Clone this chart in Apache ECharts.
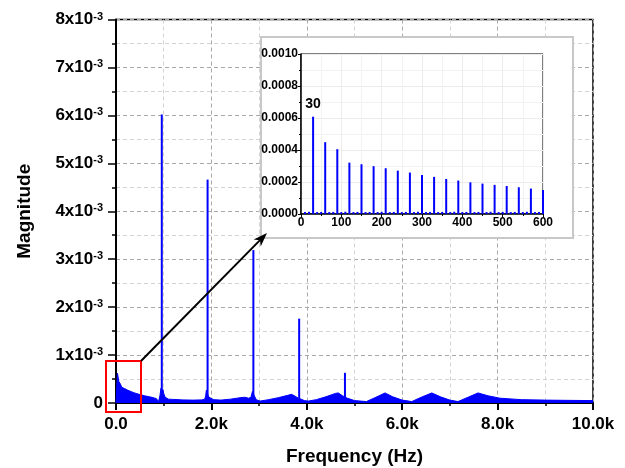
<!DOCTYPE html>
<html><head><meta charset="utf-8">
<script src="https://cdn.jsdelivr.net/npm/echarts@6/dist/echarts.min.js"></script>
<style>html,body{margin:0;padding:0;background:#fff}#c{width:625px;height:468px}</style>
</head><body><div id="c"></div>
<script>
// ---- Data ----
const xTickLabels = ['0.0', '2.0k', '4.0k', '6.0k', '8.0k', '10.0k'];
const yTickExponent = '-3';
// broadband spectrum envelope [Hz, magnitude]
const spectrumEnvelope = [
  [0,0],[10,0.02e-3],[20,0.02e-3],[30,0.62e-3],[60,0.45e-3],[90,0.40e-3],[120,0.33e-3],[150,0.31e-3],
  [180,0.30e-3],[210,0.285e-3],[240,0.27e-3],[270,0.26e-3],[300,0.245e-3],[330,0.232e-3],[360,0.22e-3],
  [390,0.21e-3],[420,0.20e-3],[450,0.19e-3],[480,0.182e-3],[510,0.175e-3],[540,0.167e-3],[570,0.16e-3],
  [600,0.15e-3],[650,0.14e-3],[700,0.13e-3],[750,0.12e-3],[800,0.105e-3],[850,0.09e-3],[875,0.06e-3],
  [890,0.02e-3],[905,0.06e-3],[920,0.15e-3],[935,0.25e-3],[945,0.31e-3],[955,0.22e-3],[970,0.24e-3],
  [985,0.28e-3],[1000,0.2e-3],[1030,0.12e-3],[1060,0.09e-3],[1100,0.08e-3],[1200,0.075e-3],[1400,0.065e-3],
  [1600,0.06e-3],[1800,0.065e-3],[1860,0.08e-3],[1880,0.15e-3],[1895,0.27e-3],[1910,0.2e-3],[1935,0.22e-3],
  [1950,0.12e-3],[1980,0.08e-3],[2050,0.07e-3],[2200,0.06e-3],[2400,0.08e-3],[2600,0.11e-3],[2700,0.12e-3],
  [2780,0.10e-3],[2830,0.12e-3],[2860,0.24e-3],[2900,0.15e-3],[2940,0.07e-3],[3020,0.04e-3],[3200,0.07e-3],
  [3400,0.11e-3],[3600,0.16e-3],[3680,0.18e-3],[3760,0.14e-3],[3820,0.10e-3],[3880,0.08e-3],[3950,0.05e-3],
  [4030,0.04e-3],[4200,0.07e-3],[4400,0.13e-3],[4600,0.20e-3],[4660,0.21e-3],[4750,0.15e-3],[4850,0.10e-3],
  [5000,0.05e-3],[5250,0.03e-3],[5450,0.12e-3],[5640,0.21e-3],[5800,0.13e-3],[6000,0.06e-3],[6200,0.03e-3],
  [6400,0.12e-3],[6620,0.21e-3],[6800,0.13e-3],[7000,0.06e-3],[7170,0.03e-3],[7380,0.12e-3],[7590,0.21e-3],
  [7800,0.15e-3],[8050,0.10e-3],[8500,0.07e-3],[9000,0.06e-3],[9500,0.055e-3],[10000,0.05e-3]
];
// strong tonal peaks [Hz, magnitude]
const mainPeaks = [[960,6.02e-3],[1920,4.66e-3],[2880,3.19e-3],[3840,1.76e-3],[4800,0.63e-3]];
// inset: harmonics of 30 Hz
const insetHarmonicFreqs = [30,60,90,120,150,180,210,240,270,300,330,360,390,420,450,480,510,540,570,600];
const insetHarmonicMags = [0.000608,0.000449,0.000405,0.000321,0.000311,0.000299,0.000286,0.000271,0.000259,0.000244,
  0.000232,0.000219,0.000209,0.000198,0.000190,0.000182,0.000175,0.000167,0.000159,0.000150];
// inset: small side lines
const insetSmallFreqs = [10,20,40,50,70,80,100,110,130,140,160,170,190,200,220,230,250,260,280,290,310,320,340,350,
  370,380,400,410,430,440,460,470,490,500,520,530,550,560,580,590];
const insetSmallMags = [1.2e-5,1.4e-5,1.2e-5,1.3e-5,1.2e-5,1.3e-5,1.2e-5,1.4e-5,1.2e-5,1.3e-5,1.2e-5,1.3e-5,1.2e-5,1.4e-5,
  1.2e-5,1.3e-5,1.2e-5,1.3e-5,1.2e-5,1.4e-5,1.2e-5,1.3e-5,1.2e-5,1.3e-5,1.2e-5,1.4e-5,1.2e-5,1.3e-5,1.2e-5,1.3e-5,
  1.2e-5,1.4e-5,1.2e-5,1.3e-5,1.2e-5,1.3e-5,1.2e-5,1.4e-5,1.2e-5,1.3e-5];
const annotatedFreq = 30;

// ---- Chart ----
const FONT = "'Liberation Sans', Arial, sans-serif";
const BLUE = '#0000ff';
const chart = echarts.init(document.getElementById('c'), null, {renderer: 'canvas'});

const insetData = [];
insetSmallFreqs.forEach((f, i) => insetData.push([f, insetSmallMags[i]]));
insetHarmonicFreqs.forEach((f, i) => {
  const item = {value: [f, insetHarmonicMags[i]]};
  if (f === annotatedFreq) {
    item.label = {show: true, position: 'top', distance: 6, formatter: String(f),
      fontFamily: FONT, fontWeight: 'bold', fontSize: 14, color: '#000'};
  }
  insetData.push(item);
});
insetData.sort((a, b) => (a.value || a)[0] - (b.value || b)[0]);

const dash = [4, 3];
const option = {
  backgroundColor: '#fff',
  animation: false,
  grid: [
    {left: 116, right: 32, top: 19.5, bottom: 65, show: true, borderColor: '#000', borderWidth: 1.5, z: 0,
      containLabel: false, outerBoundsMode: 'none'},
    {left: 301, right: 82, top: 54, bottom: 254, show: true, borderColor: '#000', borderWidth: 1, z: 5,
      containLabel: false, outerBoundsMode: 'none'}
  ],
  xAxis: [
    {
      type: 'value', gridIndex: 0, min: 0, max: 10000, interval: 2000,
      axisLine: {show: true, onZero: false, lineStyle: {color: '#000', width: 2}},
      axisTick: {show: true, length: 7, lineStyle: {color: '#000', width: 2}},
      minorTick: {show: true, splitNumber: 2, length: 3, lineStyle: {color: '#000', width: 1.5}},
      splitLine: {show: true, lineStyle: {color: '#a8a8a8', type: dash, width: 1}},
      minorSplitLine: {show: true, lineStyle: {color: '#d4d4d4', type: dash, width: 1}},
      axisLabel: {margin: 13, color: '#000', fontFamily: FONT, fontWeight: 'bold', fontSize: 17,
        formatter: v => xTickLabels[Math.round(v / 2000)]},
      name: 'Frequency (Hz)', nameLocation: 'middle', nameGap: 44,
      nameTextStyle: {color: '#000', fontFamily: FONT, fontWeight: 'bold', fontSize: 19}
    },
    {
      type: 'value', gridIndex: 1, min: 0, max: 600, interval: 100, z: 5,
      axisLine: {show: true, onZero: false, lineStyle: {color: '#000', width: 1.5}},
      axisTick: {show: true, length: 3, lineStyle: {color: '#000', width: 1}},
      minorTick: {show: true, splitNumber: 2, length: 2, lineStyle: {color: '#000', width: 1}},
      splitLine: {show: true, lineStyle: {color: '#ececec', width: 1}},
      minorSplitLine: {show: true, lineStyle: {color: '#f2f2f2', width: 1}},
      axisLabel: {margin: 3, color: '#000', fontFamily: FONT, fontWeight: 'bold', fontSize: 12}
    }
  ],
  yAxis: [
    {
      type: 'value', gridIndex: 0, min: 0, max: 0.008, interval: 0.001,
      axisLine: {show: true, onZero: false, lineStyle: {color: '#000', width: 2}},
      axisTick: {show: true, length: 8, lineStyle: {color: '#000', width: 1.5}},
      minorTick: {show: true, splitNumber: 2, length: 4, lineStyle: {color: '#000', width: 1.5}},
      splitLine: {show: true, lineStyle: {color: '#a8a8a8', type: dash, width: 1}},
      minorSplitLine: {show: true, lineStyle: {color: '#d4d4d4', type: dash, width: 1}},
      axisLabel: {
        margin: 13, color: '#000',
        formatter: v => {
          const k = Math.round(v * 1000);
          return k === 0 ? '{b|0}' : '{b|' + k + 'x10}{s|' + yTickExponent + '}';
        },
        rich: {
          b: {fontFamily: FONT, fontWeight: 'bold', fontSize: 17, color: '#000'},
          s: {fontFamily: FONT, fontWeight: 'bold', fontSize: 11, color: '#000', padding: [0, 0, 6, 0]}
        }
      },
      name: 'Magnitude', nameLocation: 'middle', nameGap: 82,
      nameTextStyle: {color: '#000', fontFamily: FONT, fontWeight: 'bold', fontSize: 19}
    },
    {
      type: 'value', gridIndex: 1, min: 0, max: 0.001, interval: 0.0002, z: 5,
      axisLine: {show: true, onZero: false, lineStyle: {color: '#000', width: 1.5}},
      axisTick: {show: true, length: 3, lineStyle: {color: '#000', width: 1}},
      minorTick: {show: true, splitNumber: 2, length: 2, lineStyle: {color: '#000', width: 1}},
      splitLine: {show: true, lineStyle: {color: '#ececec', width: 1}},
      minorSplitLine: {show: true, lineStyle: {color: '#f2f2f2', width: 1}},
      axisLabel: {margin: 3, color: '#000', fontFamily: FONT, fontWeight: 'bold', fontSize: 12,
        formatter: v => v.toFixed(4)}
    }
  ],
  series: [
    {
      type: 'line', xAxisIndex: 0, yAxisIndex: 0, data: spectrumEnvelope, z: 3,
      showSymbol: false, symbol: 'none',
      lineStyle: {color: BLUE, width: 1}, areaStyle: {color: BLUE, opacity: 1}
    },
    {
      type: 'bar', xAxisIndex: 0, yAxisIndex: 0, data: mainPeaks, barWidth: 2, z: 3,
      itemStyle: {color: BLUE}
    },
    {
      type: 'bar', xAxisIndex: 1, yAxisIndex: 1, data: insetData, barWidth: 2, z: 6,
      itemStyle: {color: BLUE}
    }
  ],
  graphic: []
};
chart.setOption(option);

// Annotations: inset frame, red zoom box, arrow
const frame = {x: 261, y: 37, w: 312, h: 201};
const start = [141, 361];
const tip = [267, 233];
const dx = tip[0] - start[0], dy = tip[1] - start[1];
const L = Math.hypot(dx, dy), ux = dx / L, uy = dy / L, px = -uy, py = ux;
const headLen = 14, headHalf = 5, notch = 10;
const bc = [tip[0] - headLen * ux, tip[1] - headLen * uy];
const nt = [tip[0] - notch * ux, tip[1] - notch * uy];
chart.setOption({
  graphic: [
    {type: 'rect', z: 1, shape: {x: frame.x, y: frame.y, width: frame.w, height: frame.h},
      style: {fill: '#fff', stroke: '#c8c8c8', lineWidth: 2}},
    {type: 'rect', z: 10, shape: {x: 106, y: 361, width: 35, height: 51},
      style: {fill: null, stroke: '#ff0000', lineWidth: 2}},
    {type: 'line', z: 10, shape: {x1: start[0], y1: start[1], x2: nt[0], y2: nt[1]},
      style: {stroke: '#000', lineWidth: 2}},
    {type: 'polygon', z: 10, shape: {points: [tip,
      [bc[0] + headHalf * px, bc[1] + headHalf * py], nt, [bc[0] - headHalf * px, bc[1] - headHalf * py]]},
      style: {fill: '#000'}}
  ]
});
</script>
</body></html>
